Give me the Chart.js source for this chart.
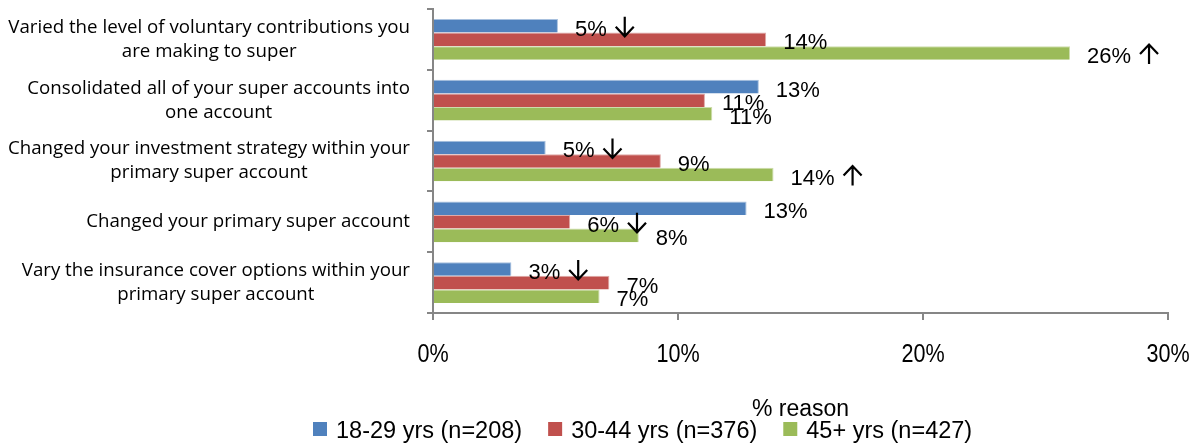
<!DOCTYPE html>
<html>
<head>
<meta charset="utf-8">
<script src="https://cdn.jsdelivr.net/npm/chart.js@4/dist/chart.umd.min.js"></script>
<style>
  html, body { margin: 0; padding: 0; background: #fff; }
  #wrap { width: 1197px; height: 448px; }
</style>
</head>
<body>
<div id="wrap"><canvas id="reasonChart"></canvas></div>
<script>
// Chart data
const categories = [
    ['Varied the level of voluntary contributions you', 'are making to super'],
    ['Consolidated all of your super accounts into', 'one account'],
    ['Changed your investment strategy within your', 'primary super account'],
    ['Changed your primary super account'],
    ['Vary the insurance cover options within your', 'primary super account']
];
const seriesNames = ['18-29 yrs (n=208)', '30-44 yrs (n=376)', '45+ yrs (n=427)'];
const young = [5.1, 13.3, 4.6, 12.8, 3.2];
const middle = [13.6, 11.1, 9.3, 5.6, 7.2];
const older = [26.0, 11.4, 13.9, 8.4, 6.8];
// significance arrows shown after the value labels
const youngArrows = ['down', '', 'down', '', 'down'];
const middleArrows = ['', '', '', 'down', ''];
const olderArrows = ['up', '', 'up', '', ''];
const xTicks = [0, 10, 20, 30];

const colors = ['#4F81BD', '#C0504D', '#9BBB59'];
const edgeColors = ['#A7C0DE', '#DFA9A7', '#CDDDAC'];
const axisColor = '#868686';
const sans = '"Liberation Sans", Arial, sans-serif';

// text squeezed horizontally, to get the narrow look of the original
function narrowText(ctx, text, x, y, squeeze, align) {
    ctx.save();
    ctx.translate(x, y);
    ctx.scale(squeeze, 1);
    ctx.textAlign = align;
    ctx.fillText(text, 0, 0);
    ctx.restore();
}

function drawArrow(ctx, x, baseline, dir) {
    const w = 20, h = 20, head = 10;
    const cx = x + w / 2;
    const top = baseline - h + 1, bottom = baseline + 1;
    ctx.save();
    ctx.strokeStyle = '#000';
    ctx.lineWidth = 2.2;
    ctx.beginPath();
    ctx.moveTo(cx, top);
    ctx.lineTo(cx, bottom);
    if (dir === 'down') {
        ctx.moveTo(x + 1, bottom - head);
        ctx.lineTo(cx, bottom - 0.5);
        ctx.lineTo(x + w - 1, bottom - head);
    } else {
        ctx.moveTo(x + 1, top + head);
        ctx.lineTo(cx, top + 0.5);
        ctx.lineTo(x + w - 1, top + head);
    }
    ctx.stroke();
    ctx.restore();
}

const extrasPlugin = {
    id: 'extras',
    afterDraw(chart) {
        const ctx = chart.ctx;
        const yScale = chart.scales.y;
        const xScale = chart.scales.x;
        const area = chart.chartArea;
        const arrows = [youngArrows, middleArrows, olderArrows];

        ctx.save();
        ctx.fillStyle = '#000';

        // Category labels: right aligned block, lines centred within it
        ctx.font = '18.7px "Open Sans", sans-serif';
        ctx.textBaseline = 'middle';
        ctx.textAlign = 'center';
        categories.forEach((lines, i) => {
            const yc = yScale.getPixelForValue(i);
            const maxW = Math.max(...lines.map(l => ctx.measureText(l).width));
            const cx = area.left - 23 - maxW / 2;
            const lh = 24;
            lines.forEach((line, j) => {
                ctx.fillText(line, cx, yc + (j - (lines.length - 1) / 2) * lh);
            });
        });

        ctx.textBaseline = 'alphabetic';

        // Value labels next to bars
        ctx.font = '22px ' + sans;
        ctx.textAlign = 'left';
        chart.data.datasets.forEach((ds, di) => {
            const meta = chart.getDatasetMeta(di);
            meta.data.forEach((bar, i) => {
                const text = Math.round(ds.data[i]) + '%';
                const tx = bar.x + 17;
                const ty = bar.y + 10;
                ctx.fillText(text, tx, ty);
                if (arrows[di][i]) {
                    drawArrow(ctx, tx + ctx.measureText(text).width + 8, ty, arrows[di][i]);
                }
            });
        });

        // X tick labels
        ctx.font = '26px ' + sans;
        xTicks.forEach(v => {
            narrowText(ctx, v + '%', xScale.getPixelForValue(v), 362, 0.83, 'center');
        });

        // Axis title
        ctx.font = '23px ' + sans;
        narrowText(ctx, '% reason', (area.left + area.right) / 2, 416, 1, 'center');

        // Legend
        ctx.font = '23.5px ' + sans;
        const box = 14, gap = 9, itemGap = 26;
        const widths = seriesNames.map(n => ctx.measureText(n).width);
        let x = 313;
        ctx.textAlign = 'left';
        seriesNames.forEach((name, i) => {
            ctx.fillStyle = colors[i];
            ctx.fillRect(x, 422, box, box);
            ctx.fillStyle = '#000';
            ctx.fillText(name, x + box + gap, 438);
            x += box + gap + widths[i] + itemGap;
        });

        ctx.restore();
    }
};

const ctx = document.getElementById('reasonChart');
new Chart(ctx, {
    type: 'bar',
    data: {
        labels: categories.map(c => c.join(' ')),
        datasets: [young, middle, older].map((values, i) => ({
            label: seriesNames[i],
            data: values,
            backgroundColor: colors[i],
            borderColor: edgeColors[i],
            borderWidth: { top: 1, right: 1, bottom: 0, left: 0 },
            borderSkipped: 'start',
            categoryPercentage: 0.67,
            barPercentage: 1.0
        }))
    },
    options: {
        indexAxis: 'y',
        responsive: true,
        maintainAspectRatio: false,
        animation: false,
        layout: {
            padding: { top: 9, right: 29, left: 0, bottom: 0 }
        },
        plugins: {
            legend: { display: false },
            tooltip: { enabled: false }
        },
        scales: {
            y: {
                type: 'category',
                offset: true,
                ticks: { display: false },
                grid: {
                    offset: true,
                    drawOnChartArea: false,
                    drawTicks: true,
                    tickLength: 6,
                    color: axisColor,
                    lineWidth: 2
                },
                border: { color: axisColor, width: 2 },
                afterFit(scale) {
                    scale.width = 433;
                }
            },
            x: {
                type: 'linear',
                min: 0,
                max: 30,
                afterBuildTicks(scale) {
                    scale.ticks = xTicks.map(v => ({ value: v }));
                },
                ticks: { display: false },
                grid: {
                    drawOnChartArea: false,
                    drawTicks: true,
                    tickLength: 7,
                    color: axisColor,
                    lineWidth: 2
                },
                border: { color: axisColor, width: 2 },
                afterFit(scale) {
                    scale.height = 135;
                }
            }
        }
    },
    plugins: [extrasPlugin]
});
</script>
</body>
</html>
